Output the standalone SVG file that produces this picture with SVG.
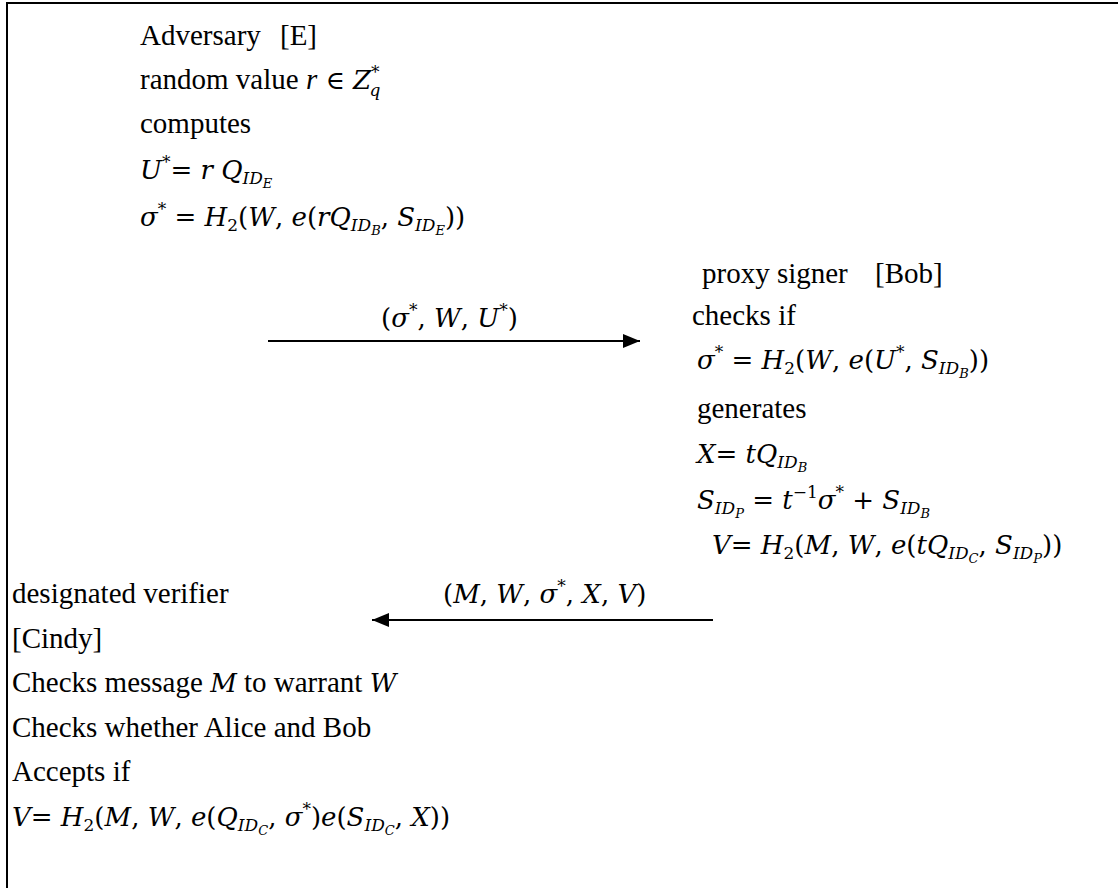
<svg xmlns="http://www.w3.org/2000/svg" width="1118" height="888" viewBox="0 0 1118 888">
<style>
.t{font-family:"Liberation Serif","Times New Roman",serif;font-size:29px;fill:#000}
.m{font-family:"DejaVu Serif",serif;font-size:26px;fill:#000}
.i{font-style:italic}
.s1{font-size:17px}
.s2{font-size:13px}
.sp{font-size:17px}
.ln{stroke:#000;stroke-width:2;fill:none}
</style>
<defs>
<marker id="ah" markerUnits="userSpaceOnUse" markerWidth="17" markerHeight="14" refX="17" refY="7" orient="auto"><path d="M0,0 L17,7 L0,14 z" fill="#000"/></marker>
</defs>
<rect width="1118" height="888" fill="#fff"/>
<g id="frame">
<path class="ln" d="M7,888 V3 H1118"/>
</g>
<g id="adversary">
<text class="t" x="140" y="45">Adversary</text><text class="t" x="280" y="45">[E]</text>
<text class="t" x="140" y="89">random value <tspan class="i">r</tspan><tspan class="m"> ∈ </tspan><tspan class="m i">Z</tspan><tspan class="m sp" dy="-11">*</tspan><tspan class="m s1 i" dx="-10" dy="18">q</tspan></text>
<text class="t" x="140" y="133">computes</text>
<text class="m" x="140" y="179"><tspan class="i">U</tspan><tspan class="sp" dy="-11">*</tspan><tspan dy="11">= </tspan><tspan class="i">r Q</tspan><tspan class="s1 i" dy="5">ID</tspan><tspan class="s2 i" dy="4">E</tspan></text>
<text class="m" x="140" y="226"><tspan class="i">σ</tspan><tspan class="sp" dy="-11">*</tspan><tspan dy="11"> = </tspan><tspan class="i">H</tspan><tspan class="s1" dy="5">2</tspan><tspan dy="-5">(</tspan><tspan class="i">W</tspan>, <tspan class="i">e</tspan>(<tspan class="i">rQ</tspan><tspan class="s1 i" dy="5">ID</tspan><tspan class="s2 i" dy="4">B</tspan><tspan dy="-9">, </tspan><tspan class="i">S</tspan><tspan class="s1 i" dy="5">ID</tspan><tspan class="s2 i" dy="4">E</tspan><tspan dy="-9">))</tspan></text>
</g>
<g id="bob">
<text class="t" x="702" y="283">proxy signer</text><text class="t" x="875" y="283">[Bob]</text>
<text class="t" x="692" y="325">checks if</text>
<text class="m" x="697" y="369"><tspan class="i">σ</tspan><tspan class="sp" dy="-11">*</tspan><tspan dy="11"> = </tspan><tspan class="i">H</tspan><tspan class="s1" dy="5">2</tspan><tspan dy="-5">(</tspan><tspan class="i">W</tspan>, <tspan class="i">e</tspan>(<tspan class="i">U</tspan><tspan class="sp" dy="-11">*</tspan><tspan dy="11">, </tspan><tspan class="i">S</tspan><tspan class="s1 i" dy="5">ID</tspan><tspan class="s2 i" dy="4">B</tspan><tspan dy="-9">))</tspan></text>
<text class="t" x="697" y="418">generates</text>
<text class="m" x="697" y="463"><tspan class="i">X</tspan>= <tspan class="i">tQ</tspan><tspan class="s1 i" dy="5">ID</tspan><tspan class="s2 i" dy="4">B</tspan></text>
<text class="m" x="697" y="509"><tspan class="i">S</tspan><tspan class="s1 i" dy="5">ID</tspan><tspan class="s2 i" dy="4">P</tspan><tspan dy="-9"> = </tspan><tspan class="i">t</tspan><tspan class="s1" dy="-11">−1</tspan><tspan class="i" dy="11">σ</tspan><tspan class="sp" dy="-11">*</tspan><tspan dy="11"> + </tspan><tspan class="i">S</tspan><tspan class="s1 i" dy="5">ID</tspan><tspan class="s2 i" dy="4">B</tspan></text>
<text class="m" x="712" y="554"><tspan class="i">V</tspan>= <tspan class="i">H</tspan><tspan class="s1" dy="5">2</tspan><tspan dy="-5">(</tspan><tspan class="i">M</tspan>, <tspan class="i">W</tspan>, <tspan class="i">e</tspan>(<tspan class="i">tQ</tspan><tspan class="s1 i" dy="5">ID</tspan><tspan class="s2 i" dy="4">C</tspan><tspan dy="-9">, </tspan><tspan class="i">S</tspan><tspan class="s1 i" dy="5">ID</tspan><tspan class="s2 i" dy="4">P</tspan><tspan dy="-9">))</tspan></text>
</g>
<g id="cindy">
<text class="t" x="12" y="603">designated verifier</text>
<text class="t" x="12" y="648">[Cindy]</text>
<text class="t" x="12" y="692">Checks message <tspan class="m i">M</tspan> to warrant <tspan class="m i">W</tspan></text>
<text class="t" x="12" y="737">Checks whether Alice and Bob</text>
<text class="t" x="12" y="781">Accepts if</text>
<text class="m" x="12" y="826"><tspan class="i">V</tspan>= <tspan class="i">H</tspan><tspan class="s1" dy="5">2</tspan><tspan dy="-5">(</tspan><tspan class="i">M</tspan>, <tspan class="i">W</tspan>, <tspan class="i">e</tspan>(<tspan class="i">Q</tspan><tspan class="s1 i" dy="5">ID</tspan><tspan class="s2 i" dy="4">C</tspan><tspan dy="-9">, </tspan><tspan class="i">σ</tspan><tspan class="sp" dy="-11">*</tspan><tspan dy="11">)</tspan><tspan class="i">e</tspan>(<tspan class="i">S</tspan><tspan class="s1 i" dy="5">ID</tspan><tspan class="s2 i" dy="4">C</tspan><tspan dy="-9">, </tspan><tspan class="i">X</tspan>))</text>
</g>
<g id="connectors">
<line class="ln" x1="268" y1="341" x2="640" y2="341" marker-end="url(#ah)"/>
<text class="m" x="381" y="327">(<tspan class="i">σ</tspan><tspan class="sp" dy="-11">*</tspan><tspan dy="11">, </tspan><tspan class="i">W</tspan>, <tspan class="i">U</tspan><tspan class="sp" dy="-11">*</tspan><tspan dy="11">)</tspan></text>
<line class="ln" x1="713" y1="620" x2="372" y2="620" marker-end="url(#ah)"/>
<text class="m" x="443" y="603">(<tspan class="i">M</tspan>, <tspan class="i">W</tspan>, <tspan class="i">σ</tspan><tspan class="sp" dy="-11">*</tspan><tspan dy="11">, </tspan><tspan class="i">X</tspan>, <tspan class="i">V</tspan>)</text>
</g>
</svg>
